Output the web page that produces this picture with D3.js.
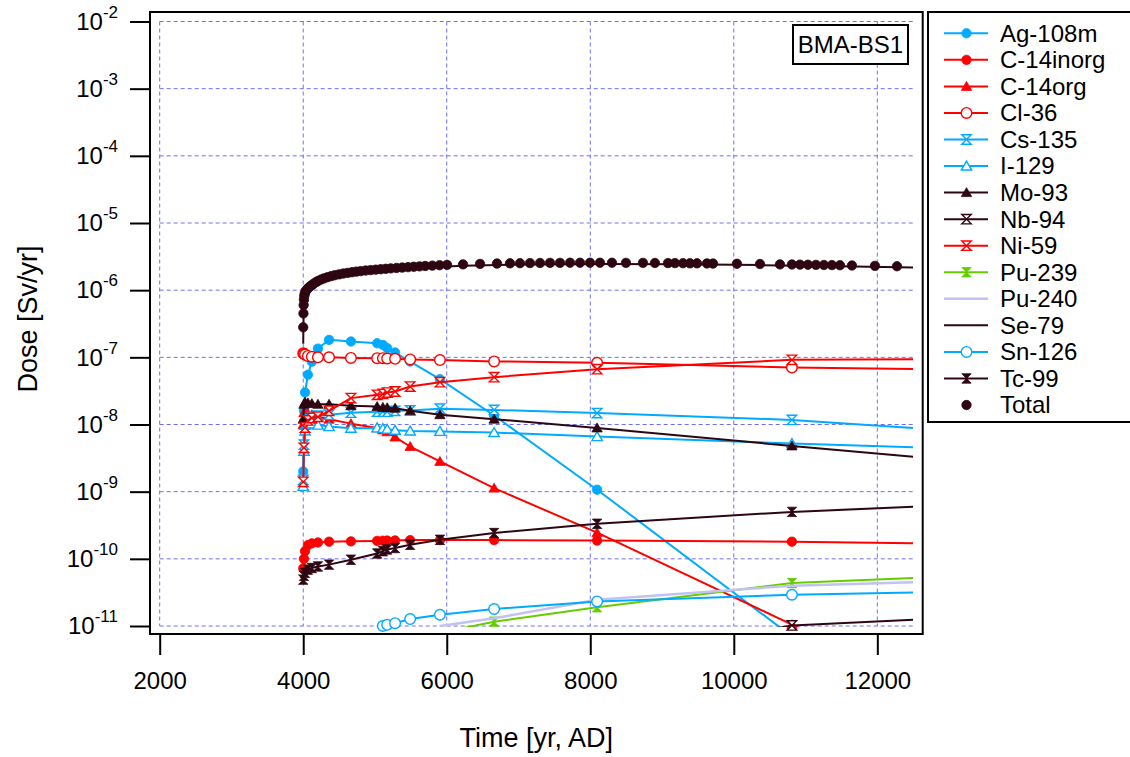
<!DOCTYPE html>
<html>
<head>
<meta charset="utf-8">
<script src="https://cdn.jsdelivr.net/npm/d3@7"></script>
<style>
  body { margin: 0; background: #fff; }
  svg text { font-family: "Liberation Sans", Arial, sans-serif; fill: #000; }
</style>
</head>
<body>
<div class="vis-dose"></div>
<script>
// time steps of the calculation [yr, AD]
const years = [4000, 4010, 4025, 4065, 4120, 4205, 4360, 4665, 5030, 5110, 5170, 5280, 5490, 5905, 6660, 8095, 10810, 12500];

// dose per nuclide [Sv/yr] on the time steps above (null = not in the output)
const ag108m   = [2.0e-9, 1.6e-8, 3.0e-8, 5.5e-8, 8.6e-8, 1.35e-7, 1.82e-7, 1.72e-7, 1.62e-7, 1.53e-7, 1.37e-7, 1.18e-7, 8.65e-8, 4.73e-8, 1.36e-8, 1.07e-9, 7.0e-12, 3.2e-13];
const c14inorg = [7.2e-11, 1.0e-10, 1.3e-10, 1.6e-10, 1.7e-10, 1.75e-10, 1.8e-10, 1.82e-10, 1.85e-10, 1.86e-10, 1.87e-10, 1.88e-10, 1.9e-10, 1.9e-10, 1.9e-10, 1.87e-10, 1.8e-10, 1.7e-10];
const c14org   = [1.0e-8, 1.5e-8, 1.5e-8, 1.45e-8, 1.4e-8, 1.3e-8, 1.2e-8, 1.03e-8, 8.9e-9, 8.3e-9, 7.8e-9, 6.5e-9, 4.7e-9, 2.82e-9, 1.13e-9, 2.45e-10, 1.05e-11, 1.6e-12];
const cl36     = [1.15e-7, 1.13e-7, 1.1e-7, 1.05e-7, 1.02e-7, 1.0e-7, 1.0e-7, 9.8e-8, 9.7e-8, 9.7e-8, 9.6e-8, 9.5e-8, 9.3e-8, 9.1e-8, 8.7e-8, 8.3e-8, 7.05e-8, 6.7e-8];
const cs135    = [1.5e-9, 5.0e-9, 1.0e-8, 1.2e-8, 1.3e-8, 1.35e-8, 1.4e-8, 1.5e-8, 1.55e-8, 1.55e-8, 1.55e-8, 1.6e-8, 1.62e-8, 1.72e-8, 1.65e-8, 1.48e-8, 1.17e-8, 8.9e-9];
const i129     = [1.2e-9, 4.0e-9, 8.0e-9, 1.0e-8, 1.02e-8, 9.8e-9, 9.3e-9, 8.8e-9, 8.9e-9, 8.7e-9, 8.5e-9, 8.2e-9, 8.0e-9, 7.9e-9, 7.6e-9, 6.6e-9, 5.2e-9, 4.6e-9];
const mo93     = [1.2e-8, 2.0e-8, 2.15e-8, 2.1e-8, 2.05e-8, 2.0e-8, 2.0e-8, 1.9e-8, 1.85e-8, 1.8e-8, 1.78e-8, 1.75e-8, 1.6e-8, 1.4e-8, 1.2e-8, 8.9e-9, 4.8e-9, 3.3e-9];
const nb94     = [null, null, null, null, null, null, null, null, null, null, null, null, null, null, null, 3.0e-12, 1.02e-11, 1.24e-11];
const ni59     = [1.4e-9, 4.5e-9, 9.0e-9, 1.15e-8, 1.25e-8, 1.3e-8, 1.6e-8, 2.47e-8, 2.77e-8, 2.85e-8, 2.99e-8, 3.1e-8, 3.67e-8, 4.27e-8, 5.07e-8, 6.67e-8, 9.18e-8, 9.4e-8];
const pu239    = [null, null, null, null, null, null, null, null, null, null, null, null, null, 7.9e-12, 1.16e-11, 1.9e-11, 4.36e-11, 5.18e-11];
const pu240    = [null, null, null, null, null, null, null, null, null, null, null, null, null, 1.0e-11, 1.3e-11, 2.46e-11, 3.98e-11, 4.5e-11];
const sn126    = [null, null, null, null, null, null, null, null, null, 1.0e-11, 1.04e-11, 1.1e-11, 1.27e-11, 1.47e-11, 1.79e-11, 2.32e-11, 2.92e-11, 3.16e-11];
const tc99     = [4.9e-11, 5.6e-11, 6.2e-11, 6.9e-11, 7.3e-11, 7.7e-11, 8.2e-11, 9.7e-11, 1.2e-10, 1.3e-10, 1.38e-10, 1.45e-10, 1.62e-10, 1.92e-10, 2.42e-10, 3.33e-10, 5.0e-10, 5.96e-10];

// Se-79 has its own (finer) output steps
const se79Years = [4000, 4003, 4006, 4010, 4020, 4045, 4100, 4210, 4390, 4620, 4940, 5300, 5700, 6227, 7021, 8135, 9292, 10365, 11479, 12500];
const se79      = [1.6e-7, 3.0e-7, 4.6e-7, 5.9e-7, 7.7e-7, 8.9e-7, 1.03e-6, 1.26e-6, 1.5e-6, 1.7e-6, 1.88e-6, 2.03e-6, 2.18e-6, 2.31e-6, 2.42e-6, 2.46e-6, 2.43e-6, 2.36e-6, 2.27e-6, 2.18e-6];

// total dose, every output step
const totalYears = [4000, 4003, 4006, 4010, 4015, 4020, 4030, 4045, 4060, 4080, 4100, 4125, 4150, 4180, 4210, 4250, 4290, 4340, 4390, 4440,
  4500, 4560, 4620, 4680, 4740, 4800, 4870, 4940, 5010, 5080, 5150, 5220, 5300, 5380, 5460, 5540, 5620, 5700, 5800, 5900,
  6004, 6227, 6464, 6700, 6882, 7021, 7160, 7300, 7439, 7578, 7718, 7857, 7996, 8135, 8302, 8497, 8734, 8901, 9083, 9180,
  9292, 9389, 9487, 9626, 9710, 10044, 10365, 10643, 10810, 10922, 11033, 11145, 11256, 11368, 11479, 11646, 11967, 12274];
const total = [2.8e-7, 4.5e-7, 6.0e-7, 7.2e-7, 8.2e-7, 8.8e-7, 9.5e-7, 1.0e-6, 1.05e-6, 1.1e-6, 1.15e-6, 1.2e-6, 1.26e-6, 1.32e-6, 1.38e-6, 1.44e-6, 1.5e-6, 1.56e-6, 1.62e-6, 1.67e-6,
  1.72e-6, 1.77e-6, 1.81e-6, 1.85e-6, 1.89e-6, 1.92e-6, 1.96e-6, 1.99e-6, 2.02e-6, 2.05e-6, 2.08e-6, 2.11e-6, 2.14e-6, 2.17e-6, 2.2e-6, 2.23e-6, 2.26e-6, 2.29e-6, 2.32e-6, 2.35e-6,
  2.38e-6, 2.42e-6, 2.46e-6, 2.49e-6, 2.51e-6, 2.52e-6, 2.53e-6, 2.54e-6, 2.55e-6, 2.55e-6, 2.56e-6, 2.56e-6, 2.56e-6, 2.56e-6, 2.56e-6, 2.55e-6, 2.55e-6, 2.54e-6, 2.53e-6, 2.53e-6,
  2.52e-6, 2.51e-6, 2.51e-6, 2.5e-6, 2.49e-6, 2.47e-6, 2.45e-6, 2.42e-6, 2.41e-6, 2.4e-6, 2.39e-6, 2.38e-6, 2.37e-6, 2.36e-6, 2.35e-6, 2.33e-6, 2.3e-6, 2.27e-6];

// axes
const xTicks = [2000, 4000, 6000, 8000, 10000, 12000];
const yTicks = [1e-2, 1e-3, 1e-4, 1e-5, 1e-6, 1e-7, 1e-8, 1e-9, 1e-10, 1e-11];

const BLUE = '#00aaff', RED = '#ff0000', DARK = '#2e0612', GREEN = '#66cc00', LAVENDER = '#c2c2f2';

const series = [
  {name: 'Ag-108m',   x: years, y: ag108m,   color: BLUE,     marker: 'circle',    filled: true},
  {name: 'C-14inorg', x: years, y: c14inorg, color: RED,      marker: 'circle',    filled: true},
  {name: 'C-14org',   x: years, y: c14org,   color: RED,      marker: 'triangle',  filled: true},
  {name: 'Cl-36',     x: years, y: cl36,     color: RED,      marker: 'circle',    filled: false},
  {name: 'Cs-135',    x: years, y: cs135,    color: BLUE,     marker: 'hourglass', filled: false},
  {name: 'I-129',     x: years, y: i129,     color: BLUE,     marker: 'triangle',  filled: false},
  {name: 'Mo-93',     x: years, y: mo93,     color: DARK,     marker: 'triangle',  filled: true},
  {name: 'Nb-94',     x: years, y: nb94,     color: DARK,     marker: 'hourglass', filled: false},
  {name: 'Ni-59',     x: years, y: ni59,     color: RED,      marker: 'hourglass', filled: false},
  {name: 'Pu-239',    x: years, y: pu239,    color: GREEN,    marker: 'hourglass', filled: true},
  {name: 'Pu-240',    x: years, y: pu240,    color: LAVENDER, marker: null,  width: 2.5},
  {name: 'Se-79',     x: se79Years, y: se79, color: DARK,     marker: null},
  {name: 'Sn-126',    x: years, y: sn126,    color: BLUE,     marker: 'circle',    filled: false},
  {name: 'Tc-99',     x: years, y: tc99,     color: DARK,     marker: 'hourglass', filled: true},
  {name: 'Total',     x: totalYears, y: total, color: DARK,   marker: 'circle',    filled: true, noLine: true, allMarkers: true}
];

const width = 1130, height = 757;
// plot area = axis range, the frame stands a few px off it
const plot = {left: 159.7, right: 913.2, top: 21.5, bottom: 626};
const frame = {left: 150, right: 922.7, top: 12, bottom: 634};

const xScale = d3.scaleLinear().domain([2000, 12500]).range([plot.left, plot.right]);
const yScale = d3.scaleLog().domain([1e-11, 1e-2]).range([plot.bottom, plot.top]);

const svg = d3.select('.vis-dose').append('svg')
  .attr('width', width)
  .attr('height', height);

// markers
const R = 4.7;
const shapes = {
  circle: r => d3.symbol(d3.symbolCircle, Math.PI * r * r)(),
  triangle: r => `M0,${-r * 1.05}L${r * 1.1},${r * 0.85}L${-r * 1.1},${r * 0.85}Z`,
  hourglass: r => `M${-r},${-r}H${r}L${-r},${r}H${r}Z`
};
const drawMarker = (g, s, cx, cy) => {
  g.append('path')
    .attr('d', shapes[s.marker](s.marker === 'circle' && !s.filled ? R + 0.6 : R))
    .attr('transform', `translate(${cx},${cy})`)
    .attr('fill', s.filled ? s.color : '#fff')
    .attr('stroke', s.color)
    .attr('stroke-width', s.filled ? 0.8 : 1.4);
};

// grid
const grid = svg.append('g')
  .attr('stroke', '#6f6ff5')
  .attr('stroke-width', 1)
  .attr('stroke-dasharray', '4,3');
grid.selectAll('.vgrid').data(xTicks).enter().append('line')
  .attr('x1', d => xScale(d)).attr('x2', d => xScale(d))
  .attr('y1', plot.top).attr('y2', plot.bottom);
grid.selectAll('.hgrid').data(yTicks).enter().append('line')
  .attr('x1', plot.left).attr('x2', plot.right)
  .attr('y1', d => yScale(d)).attr('y2', d => yScale(d));

// frame
svg.append('rect')
  .attr('x', frame.left).attr('y', frame.top)
  .attr('width', frame.right - frame.left).attr('height', frame.bottom - frame.top)
  .attr('fill', 'none').attr('stroke', '#000').attr('stroke-width', 2);

// y axis
const gY = svg.append('g')
  .attr('transform', `translate(${frame.left},0)`)
  .call(d3.axisLeft(yScale).tickValues(yTicks).tickSize(20).tickPadding(12).tickFormat(() => ''))
  .attr('font-size', null).attr('font-family', null);
gY.select('.domain').remove();
gY.selectAll('.tick line').attr('stroke', '#000').attr('stroke-width', 2);
gY.selectAll('.tick text').each(function(d) {
  const t = d3.select(this).attr('font-size', 24).attr('fill', '#000');
  t.append('tspan').text('10');
  t.append('tspan').attr('dy', -12).attr('font-size', 17).text(Math.round(Math.log10(d)));
});

// x axis
const gX = svg.append('g')
  .attr('transform', `translate(0,${frame.bottom})`)
  .call(d3.axisBottom(xScale).tickValues(xTicks).tickSize(21).tickPadding(17).tickFormat(d3.format('d')))
  .attr('font-size', null).attr('font-family', null);
gX.select('.domain').remove();
gX.selectAll('.tick line').attr('stroke', '#000').attr('stroke-width', 2);
gX.selectAll('.tick text').attr('font-size', 24).attr('fill', '#000');

// axis titles
svg.append('text')
  .attr('transform', `translate(37,${(frame.top + frame.bottom) / 2 - 4}) rotate(-90)`)
  .attr('text-anchor', 'middle')
  .attr('font-size', 27)
  .text('Dose [Sv/yr]');
svg.append('text')
  .attr('x', (frame.left + frame.right) / 2).attr('y', 747)
  .attr('text-anchor', 'middle')
  .attr('font-size', 27)
  .text('Time [yr, AD]');

// traces
svg.append('clipPath').attr('id', 'plot-clip')
  .append('rect')
  .attr('x', plot.left).attr('y', plot.top)
  .attr('width', plot.right - plot.left).attr('height', plot.bottom - plot.top + 1);

const traces = svg.append('g');
series.forEach(s => {
  const pts = s.x.map((t, i) => ({t, v: s.y[i], last: i === s.x.length - 1}))
    .filter(p => p.v != null);
  if (!s.noLine) {
    const line = d3.line().x(p => xScale(p.t)).y(p => yScale(p.v));
    traces.append('path')
      .attr('clip-path', 'url(#plot-clip)')
      .attr('d', line(pts))
      .attr('fill', 'none')
      .attr('stroke', s.color)
      .attr('stroke-width', s.width || 2)
      .attr('stroke-linejoin', 'round');
  }
  if (s.marker) {
    const g = traces.append('g');
    pts.filter(p => p.v >= 0.98e-11 && (s.allMarkers || !p.last))
      .forEach(p => drawMarker(g, s, xScale(p.t), yScale(p.v)));
  }
});

// run label
const tag = svg.append('g');
tag.append('rect')
  .attr('x', 793).attr('y', 25).attr('width', 115).attr('height', 39)
  .attr('fill', '#fff').attr('stroke', '#000').attr('stroke-width', 2);
tag.append('text')
  .attr('x', 850.5).attr('y', 53)
  .attr('text-anchor', 'middle')
  .attr('font-size', 24)
  .text('BMA-BS1');

// legend
const legend = svg.append('g');
legend.append('rect')
  .attr('x', 928).attr('y', 12).attr('width', 215).attr('height', 410)
  .attr('fill', '#fff').attr('stroke', '#000').attr('stroke-width', 2);
series.forEach((s, i) => {
  const cy = 33.3 + i * 26.55;
  if (!s.noLine) {
    legend.append('line')
      .attr('x1', 944).attr('x2', 988).attr('y1', cy).attr('y2', cy)
      .attr('stroke', s.color).attr('stroke-width', s.width || 2);
  }
  if (s.marker) drawMarker(legend, s, 966.5, cy);
  legend.append('text')
    .attr('x', 1000).attr('y', cy).attr('dy', '0.35em')
    .attr('font-size', 24)
    .text(s.name);
});
</script>
</body>
</html>
